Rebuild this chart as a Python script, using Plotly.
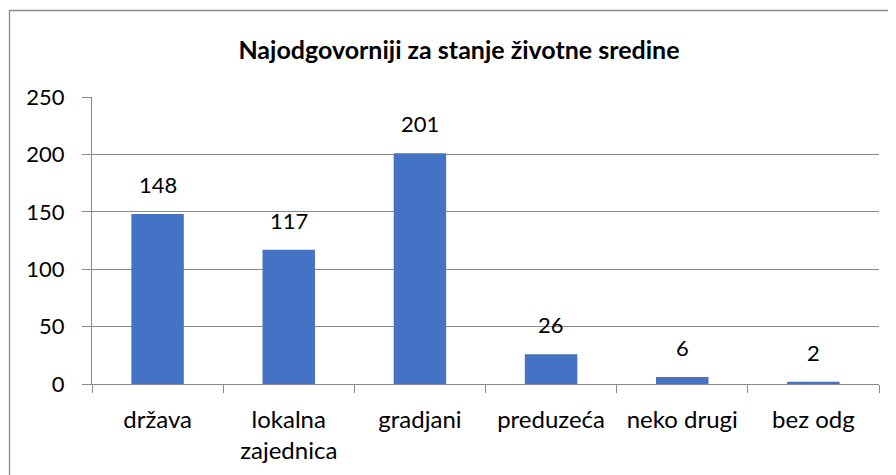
import plotly.graph_objects as go

categories = ["država", "lokalna<br>zajednica", "gradjani", "preduzeća", "neko drugi", "bez odg"]
values = [148, 117, 201, 26, 6, 2]
y_ticks = [0, 50, 100, 150, 200, 250]
title_text = "Najodgovorniji za stanje životne sredine"

# page body has an 8px margin; work in page pixel coordinates and convert
OFF = 8
W, H = 896 - OFF, 475 - OFF
L, R, T, B = 92 - OFF, 17, 97 - OFF, 91
pw = W - L - R
ph = H - T - B

def px_to_paper_x(px):
    return (px - OFF - L) / pw

def py_to_paper_y(py):
    return (H - B - (py - OFF)) / ph

fig = go.Figure()
fig.add_trace(go.Bar(
    x=categories, y=values,
    marker=dict(color="#4472C4", line=dict(width=0)),
    width=0.4,
    hoverinfo="x+y",
))

for c, v in zip(categories, values):
    fig.add_annotation(x=c, y=v, text=str(v), showarrow=False,
                       yanchor="bottom", yshift=14,
                       font=dict(family="Lato", size=22, color="#000000"))

fig.add_shape(type="rect", xref="paper", yref="paper",
              x0=px_to_paper_x(9.5), x1=px_to_paper_x(930),
              y0=py_to_paper_y(520), y1=py_to_paper_y(10.5),
              line=dict(color="#898989", width=1.3), fillcolor="rgba(0,0,0,0)",
              layer="below")

fig.update_layout(
    width=W, height=H,
    margin=dict(l=L, r=R, t=T, b=B),
    paper_bgcolor="white", plot_bgcolor="white",
    showlegend=False,
    title=dict(text="<b>" + title_text + "</b>", x=(459 - OFF) / W, xanchor="center",
               y=1 - (50 - OFF) / H, yanchor="middle",
               font=dict(family="Lato", size=25, color="#000000")),
    font=dict(family="Lato", size=23, color="#000000"),
    bargap=0.6,
)
fig.update_yaxes(range=[0, 250], tickvals=y_ticks, showgrid=True,
                 gridcolor="#8a8a8a", gridwidth=1,
                 showline=True, linecolor="#8a8a8a", linewidth=1,
                 ticks="outside", ticklen=9, tickcolor="#8a8a8a",
                 ticklabelstandoff=13,
                 tickfont=dict(family="Lato", size=22, color="#000000"),
                 zeroline=False, automargin=False)
fig.update_xaxes(showline=True, linecolor="#8a8a8a", linewidth=1,
                 ticks="outside", ticklen=8, tickcolor="#8a8a8a",
                 tickson="boundaries", automargin=False,
                 ticklabelstandoff=14,
                 tickfont=dict(family="Lato", size=24, color="#000000"))

fig.write_html("out.html")
